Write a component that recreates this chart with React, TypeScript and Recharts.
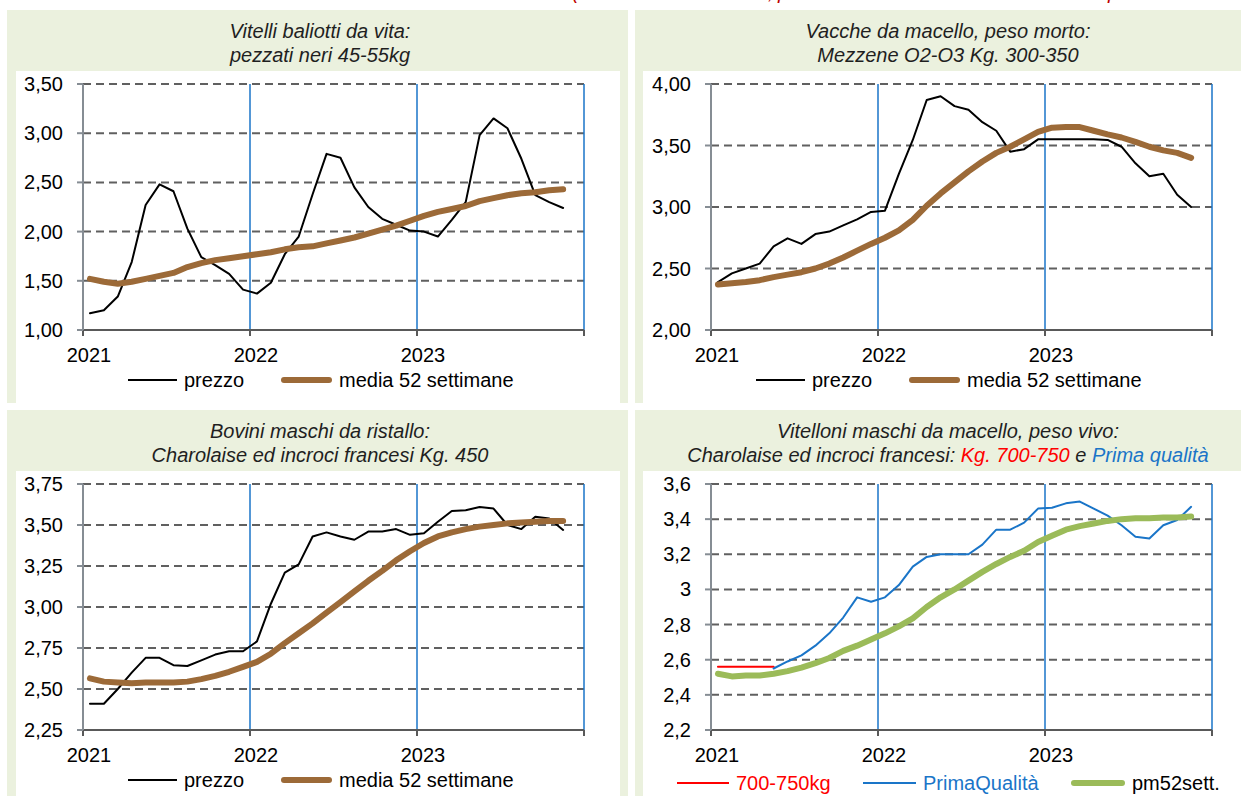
import React from 'react';
import { LineChart, Line, XAxis, YAxis, CartesianGrid, ReferenceLine } from 'recharts';

// asse x: mesi da gen 2021 (0) a dic 2023 (36), punto mensile al centro del mese
const YEAR_TICKS = [0, 12, 24, 36];
const YEAR_LABELS = ['2021', '2022', '2023', ''];

// Vitelli baliotti da vita: pezzati neri 45-55kg
const VITELLI_PREZZO = [1.17, 1.20, 1.34, 1.69, 2.27, 2.48, 2.41, 2.03, 1.74, 1.66, 1.57, 1.41, 1.37, 1.48, 1.77, 1.95, 2.38, 2.79, 2.75, 2.45, 2.25, 2.13, 2.07, 2.01, 2.00, 1.95, 2.12, 2.30, 2.98, 3.15, 3.05, 2.74, 2.37, 2.30, 2.24];
const VITELLI_MEDIA = [1.52, 1.49, 1.47, 1.49, 1.52, 1.55, 1.58, 1.64, 1.68, 1.71, 1.73, 1.75, 1.77, 1.79, 1.82, 1.84, 1.85, 1.88, 1.91, 1.94, 1.98, 2.02, 2.06, 2.11, 2.16, 2.20, 2.23, 2.26, 2.31, 2.34, 2.37, 2.39, 2.40, 2.42, 2.43];
const VITELLI_TICKS = [1, 1.5, 2, 2.5, 3, 3.5];
const VITELLI_LABELS = ['1,00', '1,50', '2,00', '2,50', '3,00', '3,50'];

// Vacche da macello, peso morto
const VACCHE_PREZZO = [2.39, 2.46, 2.50, 2.54, 2.68, 2.745, 2.70, 2.78, 2.80, 2.85, 2.90, 2.96, 2.97, 3.27, 3.545, 3.87, 3.90, 3.82, 3.79, 3.69, 3.62, 3.45, 3.47, 3.55, 3.55, 3.55, 3.55, 3.55, 3.545, 3.49, 3.355, 3.25, 3.27, 3.10, 3.00];
const VACCHE_MEDIA = [2.37, 2.38, 2.39, 2.405, 2.43, 2.45, 2.47, 2.50, 2.54, 2.59, 2.645, 2.70, 2.75, 2.81, 2.895, 3.01, 3.11, 3.20, 3.29, 3.37, 3.44, 3.49, 3.55, 3.61, 3.645, 3.65, 3.65, 3.62, 3.59, 3.565, 3.53, 3.49, 3.46, 3.44, 3.40];
const VACCHE_TICKS = [2, 2.5, 3, 3.5, 4];
const VACCHE_LABELS = ['2,00', '2,50', '3,00', '3,50', '4,00'];

// Bovini maschi da ristallo
const BOVINI_PREZZO = [2.41, 2.41, 2.50, 2.60, 2.69, 2.69, 2.645, 2.64, 2.675, 2.71, 2.73, 2.73, 2.79, 3.02, 3.21, 3.26, 3.43, 3.455, 3.43, 3.41, 3.46, 3.46, 3.475, 3.44, 3.45, 3.52, 3.585, 3.59, 3.61, 3.60, 3.50, 3.475, 3.55, 3.54, 3.47];
const BOVINI_MEDIA = [2.565, 2.545, 2.54, 2.535, 2.54, 2.54, 2.54, 2.545, 2.56, 2.58, 2.605, 2.635, 2.665, 2.715, 2.78, 2.84, 2.90, 2.965, 3.03, 3.095, 3.16, 3.22, 3.285, 3.34, 3.39, 3.43, 3.455, 3.475, 3.49, 3.50, 3.51, 3.515, 3.52, 3.525, 3.525];
const BOVINI_TICKS = [2.25, 2.5, 2.75, 3, 3.25, 3.5, 3.75];
const BOVINI_LABELS = ['2,25', '2,50', '2,75', '3,00', '3,25', '3,50', '3,75'];

// Vitelloni maschi da macello, peso vivo
const VITELLONI_700_750 = [2.56, 2.56, 2.56, 2.56, 2.56];
const VITELLONI_PRIMA = [null, null, null, null, 2.55, 2.59, 2.625, 2.68, 2.75, 2.84, 2.955, 2.93, 2.955, 3.025, 3.13, 3.185, 3.20, 3.20, 3.20, 3.255, 3.34, 3.34, 3.38, 3.46, 3.465, 3.49, 3.50, 3.46, 3.42, 3.365, 3.30, 3.29, 3.365, 3.395, 3.47];
const VITELLONI_PM52 = [2.52, 2.505, 2.51, 2.51, 2.52, 2.535, 2.555, 2.58, 2.61, 2.65, 2.68, 2.715, 2.75, 2.79, 2.835, 2.90, 2.955, 3.00, 3.05, 3.10, 3.145, 3.185, 3.22, 3.27, 3.305, 3.34, 3.36, 3.375, 3.39, 3.40, 3.405, 3.405, 3.41, 3.41, 3.415];
const VITELLONI_TICKS = [2.2, 2.4, 2.6, 2.8, 3, 3.2, 3.4, 3.6];
const VITELLONI_LABELS = ['2,2', '2,4', '2,6', '2,8', '3', '3,2', '3,4', '3,6'];

const FONT = '"Liberation Sans", Arial, sans-serif';
const GREEN_BG = '#EBF1DE';
const BROWN = '#9C6A38';
const OLIVE = '#9BBB59';
const BLUE = '#1A75C8';
const RED = '#FF0000';

const CHART_W = 604;
const PLOT_LEFT = 67;
const PLOT_TOP = 13;
const PLOT_BOTTOM = 259;
const X_AXIS_H = 30;

const rows = (series: Record<string, (number | null)[]>) =>
  VITELLI_PREZZO.map((_, i) => {
    const r: any = { x: i + 0.5 };
    for (const k of Object.keys(series)) r[k] = series[k][i] ?? null;
    return r;
  });

const XTick = (p: any) => {
  const idx = YEAR_TICKS.indexOf(p.payload.value);
  return (
    <text x={p.x + 6} y={PLOT_BOTTOM + 25} textAnchor="middle" dominantBaseline="central"
      fontSize={20} fontFamily={FONT} fill="#000">{YEAR_LABELS[idx] ?? ''}</text>
  );
};

const makeYTick = (ticks: number[], labels: string[]) => (p: any) => {
  const idx = ticks.findIndex(t => Math.abs(t - p.payload.value) < 1e-6);
  return (
    <text x={PLOT_LEFT - 20} y={p.y} textAnchor="end" dominantBaseline="central"
      fontSize={20} fontFamily={FONT} fill="#000">{labels[idx] ?? ''}</text>
  );
};

type Serie = { key: string; color: string; width: number };
type LegendItem = { label: string; color: string; textColor?: string; thick: number; x: number; w: number };

interface PanelProps {
  left: number; top: number; width: number; height: number;
  whiteLeft: number; whiteWidth: number;
  title: React.ReactNode[];
  data: any[];
  series: Serie[];
  yTicks: number[]; yLabels: string[];
  legend: LegendItem[]; legendY: number;
}

const Panel: React.FC<PanelProps> = ({
  left, top, width, height, whiteLeft, whiteWidth, title, data, series, yTicks, yLabels, legend, legendY,
}) => {
  const chartH = height - 61;
  return (
    <div style={{ position: 'absolute', left, top, width, height, background: GREEN_BG, overflow: 'hidden', fontFamily: FONT }}>
      <div style={{ position: 'absolute', left: 0, top: 9, width: 626, textAlign: 'center', fontStyle: 'italic', fontSize: 20, lineHeight: '24px', color: '#1f1f1f', whiteSpace: 'nowrap' }}>
        {title.map((t, i) => <div key={i}>{t}</div>)}
      </div>
      <div style={{ position: 'absolute', left: whiteLeft, top: 61, width: whiteWidth, height: chartH, background: '#fff' }} />
      <div style={{ position: 'absolute', left: 9, top: 61 }}>
        <LineChart width={CHART_W} height={chartH} data={data}
          margin={{ top: PLOT_TOP, right: 36, left: 0, bottom: chartH - PLOT_BOTTOM - X_AXIS_H }}>
          <CartesianGrid vertical={false} stroke="#606060" strokeDasharray="8 5" strokeWidth={2} />
          <XAxis dataKey="x" type="number" domain={[0, 36]} ticks={YEAR_TICKS} interval={0} height={X_AXIS_H}
            axisLine={{ stroke: '#595959', strokeWidth: 2 }} tickLine={{ stroke: '#595959', strokeWidth: 2 }}
            tickSize={6} tick={<XTick />} />
          <YAxis type="number" domain={[yTicks[0], yTicks[yTicks.length - 1]]} ticks={yTicks} interval={0} width={PLOT_LEFT}
            axisLine={{ stroke: '#868d94', strokeWidth: 2 }} tickLine={{ stroke: '#868d94', strokeWidth: 2 }}
            tickSize={6} tick={makeYTick(yTicks, yLabels)} />
          {YEAR_TICKS.slice(1).map(t => (
            <ReferenceLine key={t} x={t} stroke={BLUE} strokeWidth={1.5} />
          ))}
          {series.map(s => (
            <Line key={s.key} dataKey={s.key} type="linear" stroke={s.color} strokeWidth={s.width}
              strokeLinecap="round" strokeLinejoin="round" dot={false} activeDot={false}
              isAnimationActive={false} connectNulls={false} />
          ))}
        </LineChart>
      </div>
      {legend.map(l => (
        <React.Fragment key={l.label}>
          <div style={{ position: 'absolute', left: l.x, top: legendY - l.thick / 2, width: l.w, height: l.thick, background: l.color, borderRadius: l.thick > 3 ? l.thick / 2 : 0 }} />
          <div style={{ position: 'absolute', left: l.x + l.w + 7, top: legendY - 12, lineHeight: '24px', fontSize: 20, color: l.textColor ?? '#000', whiteSpace: 'nowrap' }}>{l.label}</div>
        </React.Fragment>
      ))}
    </div>
  );
};

const PREZZO_LEGEND: LegendItem[] = [
  { label: 'prezzo', color: '#000', thick: 2, x: 121, w: 49 },
  { label: 'media 52 settimane', color: BROWN, thick: 6, x: 274, w: 51 },
];

const VITELLONI_LEGEND: LegendItem[] = [
  { label: '700-750kg', color: RED, textColor: RED, thick: 2, x: 42, w: 52 },
  { label: 'PrimaQualità', color: BLUE, textColor: BLUE, thick: 2, x: 228, w: 53 },
  { label: 'pm52sett.', color: OLIVE, thick: 6, x: 436, w: 54 },
];

const PREZZO_SERIES: Serie[] = [
  { key: 'prezzo', color: '#000', width: 2 },
  { key: 'media', color: BROWN, width: 6 },
];

const App: React.FC = () => {
  const vitelli = rows({ prezzo: VITELLI_PREZZO, media: VITELLI_MEDIA });
  const vacche = rows({ prezzo: VACCHE_PREZZO, media: VACCHE_MEDIA });
  const bovini = rows({ prezzo: BOVINI_PREZZO, media: BOVINI_MEDIA });
  const vitelloni = rows({ kg: VITELLONI_700_750, prima: VITELLONI_PRIMA, pm52: VITELLONI_PM52 });

  return (
    <div style={{ position: 'fixed', left: 0, top: 0, width: 1241, height: 796, background: '#fff', overflow: 'hidden', fontFamily: FONT }}>
      {/* residuo del titolo della pagina, tagliato in alto */}
      <div style={{ position: 'absolute', left: 0, top: 0, width: 1241, height: 3, overflow: 'hidden', color: '#C00000', fontStyle: 'italic', fontSize: 20, lineHeight: '20px' }}>
        <span style={{ position: 'absolute', left: 572, top: -18 }}>(</span>
        <span style={{ position: 'absolute', left: 768, top: -18 }}>,</span>
        <span style={{ position: 'absolute', left: 778, top: -18 }}>p</span>
        <span style={{ position: 'absolute', left: 1108, top: -18 }}>p</span>
      </div>

      <Panel left={7} top={10} width={621} height={393} whiteLeft={9} whiteWidth={604}
        title={['Vitelli baliotti da vita:', 'pezzati neri 45-55kg']}
        data={vitelli} series={PREZZO_SERIES} yTicks={VITELLI_TICKS} yLabels={VITELLI_LABELS}
        legend={PREZZO_LEGEND} legendY={370} />

      <Panel left={635} top={10} width={606} height={393} whiteLeft={8} whiteWidth={598}
        title={['Vacche da macello, peso morto:', 'Mezzene O2-O3 Kg. 300-350']}
        data={vacche} series={PREZZO_SERIES} yTicks={VACCHE_TICKS} yLabels={VACCHE_LABELS}
        legend={PREZZO_LEGEND} legendY={370} />

      <Panel left={7} top={410} width={621} height={386} whiteLeft={9} whiteWidth={604}
        title={['Bovini maschi da ristallo:', 'Charolaise ed incroci francesi Kg. 450']}
        data={bovini} series={PREZZO_SERIES} yTicks={BOVINI_TICKS} yLabels={BOVINI_LABELS}
        legend={PREZZO_LEGEND} legendY={370} />

      <Panel left={635} top={410} width={606} height={386} whiteLeft={8} whiteWidth={598}
        title={[
          'Vitelloni maschi da macello, peso vivo:',
          <span>Charolaise ed incroci francesi: <span style={{ color: RED }}>Kg. 700-750</span> e <span style={{ color: BLUE }}>Prima qualità</span></span>,
        ]}
        data={vitelloni}
        series={[
          { key: 'kg', color: RED, width: 2 },
          { key: 'prima', color: BLUE, width: 2 },
          { key: 'pm52', color: OLIVE, width: 6 },
        ]}
        yTicks={VITELLONI_TICKS} yLabels={VITELLONI_LABELS}
        legend={VITELLONI_LEGEND} legendY={373} />
    </div>
  );
};

export default App;
